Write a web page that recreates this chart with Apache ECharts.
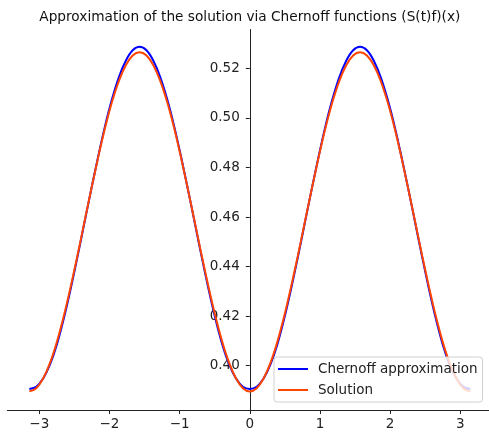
<!DOCTYPE html>
<html>
<head>
<meta charset="utf-8">
<script src="https://cdn.jsdelivr.net/npm/echarts@6/dist/echarts.min.js"></script>
<style>
html,body{margin:0;padding:0;background:#fff;}
#chart{width:489px;height:436px;}
</style>
</head>
<body>
<div id="chart"></div>
<script>
const titleText = 'Approximation of the solution via Chernoff functions (S(t)f)(x)';
const seriesNames = ['Chernoff approximation', 'Solution'];
const xValues = [
  -3.1416,-3.0434,-2.9452,-2.8471,-2.7489,-2.6507,-2.5525,-2.4544,-2.3562,-2.2580,-2.1598,-2.0617,-1.9635,-1.8653,-1.7671,-1.6690,
  -1.5708,-1.4726,-1.3744,-1.2763,-1.1781,-1.0799,-0.9817,-0.8836,-0.7854,-0.6872,-0.5890,-0.4909,-0.3927,-0.2945,-0.1963,-0.0982,
  0,
  0.0982,0.1963,0.2945,0.3927,0.4909,0.5890,0.6872,0.7854,0.8836,0.9817,1.0799,1.1781,1.2763,1.3744,1.4726,
  1.5708,1.6690,1.7671,1.8653,1.9635,2.0617,2.1598,2.2580,2.3562,2.4544,2.5525,2.6507,2.7489,2.8471,2.9452,3.0434,3.1416];
const chernoffValues = [
  0.3906,0.3915,0.3948,0.4005,0.4086,0.4190,0.4310,0.4441,0.4578,0.4714,0.4846,0.4969,0.5076,0.5165,0.5231,0.5273,
  0.5287,0.5273,0.5231,0.5165,0.5076,0.4969,0.4846,0.4714,0.4578,0.4441,0.4310,0.4190,0.4086,0.4005,0.3948,0.3915,
  0.3906,
  0.3915,0.3948,0.4005,0.4086,0.4190,0.4310,0.4441,0.4578,0.4714,0.4846,0.4969,0.5076,0.5165,0.5231,0.5273,
  0.5287,0.5273,0.5231,0.5165,0.5076,0.4969,0.4846,0.4714,0.4578,0.4441,0.4310,0.4190,0.4086,0.4005,0.3948,0.3915,0.3906];
const solutionValues = [
  0.3896,0.3909,0.3948,0.4011,0.4096,0.4200,0.4319,0.4447,0.4581,0.4714,0.4842,0.4961,0.5065,0.5150,0.5213,0.5252,
  0.5265,0.5252,0.5213,0.5150,0.5065,0.4961,0.4842,0.4714,0.4581,0.4447,0.4319,0.4200,0.4096,0.4011,0.3948,0.3909,
  0.3896,
  0.3909,0.3948,0.4011,0.4096,0.4200,0.4319,0.4447,0.4581,0.4714,0.4842,0.4961,0.5065,0.5150,0.5213,0.5252,
  0.5265,0.5252,0.5213,0.5150,0.5065,0.4961,0.4842,0.4714,0.4581,0.4447,0.4319,0.4200,0.4096,0.4011,0.3948,0.3909,0.3896];
const xTicks = [-3,-2,-1,0,1,2,3];
const yTicks = [0.40,0.42,0.44,0.46,0.48,0.50,0.52];

const FONT = 'DejaVu Sans';
const FS = 13.5;
const X_MIN = -3.456, X_MAX = 3.409;
const GRID_LEFT = 7.3, GRID_RIGHT = 0;
const chart = echarts.init(document.getElementById('chart'), null, {renderer:'canvas'});
const pair = (xs, ys) => xs.map((x, i) => [x, ys[i]]);
// place the y axis spine at x = 0 (matplotlib-style centred spine)
const gridWidth = 489 - GRID_LEFT - GRID_RIGHT;
const yAxisOffset = -((0 - X_MIN) / (X_MAX - X_MIN)) * gridWidth;

chart.setOption({
  animation: false,
  backgroundColor: '#ffffff',
  graphic: [{
    type: 'text', x: 249.8, y: 17,
    style: {text: titleText, textAlign: 'center', textVerticalAlign: 'middle',
      font: '13.7px "DejaVu Sans"', fill: '#111'}
  }],
  grid: {left: GRID_LEFT, right: GRID_RIGHT, top: 29.5, bottom: 26, containLabel: false, outerBoundsMode: 'none'},
  xAxis: {
    type: 'value', min: X_MIN, max: X_MAX,
    axisLine: {onZero: false, lineStyle: {color: '#222', width: 1}},
    axisTick: {show: true, inside: false, length: 4, lineStyle: {color: '#222'}, customValues: xTicks},
    axisLabel: {customValues: xTicks, margin: 7, fontFamily: FONT, fontSize: FS, color: '#222',
      formatter: v => String(v).replace('-', '\u2212')},
    splitLine: {show: false}
  },
  yAxis: {
    type: 'value', min: 0.3821, max: 0.5357, position: 'left', offset: yAxisOffset,
    axisLine: {onZero: false, lineStyle: {color: '#222', width: 1}},
    axisTick: {show: true, inside: false, length: 4, lineStyle: {color: '#222'}, customValues: yTicks},
    axisLabel: {show: true, customValues: yTicks, margin: 10, fontFamily: FONT, fontSize: FS, color: '#222',
      formatter: v => v.toFixed(2)},
    splitLine: {show: false}
  },
  legend: {
    orient: 'vertical', left: 274, top: 357,
    padding: [5, 5, 5, 4],
    itemGap: 7, itemWidth: 30, itemHeight: 2, icon: 'rect',
    backgroundColor: 'rgba(255,255,255,0.8)', borderColor: '#d0d0d0', borderWidth: 1, borderRadius: 3,
    textStyle: {fontFamily: FONT, fontSize: FS, color: '#222', padding: [0, 0, 0, 5]},
    data: seriesNames
  },
  series: [
    {name: seriesNames[0], type: 'line', data: pair(xValues, chernoffValues), smooth: 0.3,
      showSymbol: false, symbol: 'none', lineStyle: {color: '#0000ff', width: 2, join: 'round'}, itemStyle: {color: '#0000ff'}},
    {name: seriesNames[1], type: 'line', data: pair(xValues, solutionValues), smooth: 0.3,
      showSymbol: false, symbol: 'none', lineStyle: {color: '#ff4500', width: 2, join: 'round'}, itemStyle: {color: '#ff4500'}}
  ]
});
</script>
</body>
</html>
